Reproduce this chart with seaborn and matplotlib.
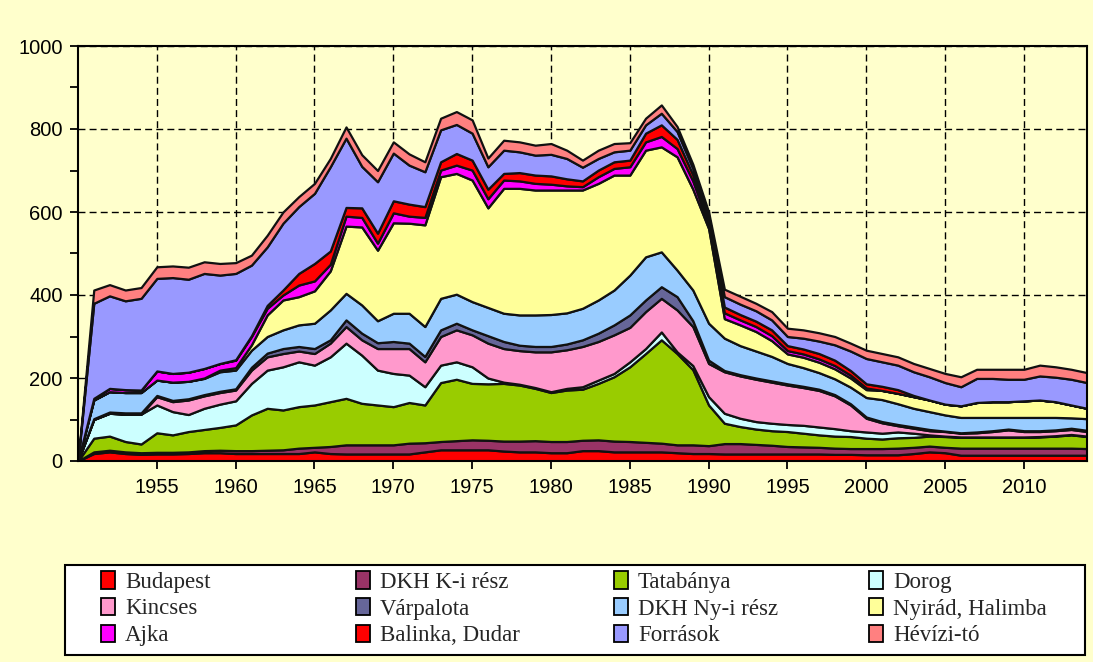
import matplotlib
matplotlib.use("Agg")
import matplotlib.pyplot as plt
from matplotlib.patches import Patch, Rectangle
import pandas as pd
import seaborn as sns

years = list(range(1950, 2015))

# values per source, 1950..2014
budapest = [0, 18, 22, 18, 16, 17, 17, 18, 20, 20,
            18, 18, 18, 18, 18, 22, 18, 17, 17, 17,
            17, 17, 22, 27, 27, 27, 27, 24, 22, 22,
            20, 20, 25, 25, 22, 22, 22, 22, 20, 18,
            18, 17, 17, 17, 17, 17, 17, 17, 16, 16,
            15, 15, 15, 18, 22, 20, 14, 14, 14, 14,
            14, 14, 14, 14, 14]
dkh_k = [0, 4, 4, 4, 4, 4, 4, 4, 5, 6,
         7, 7, 8, 9, 13, 11, 17, 22, 22, 22,
         22, 26, 22, 20, 22, 24, 23, 24, 26, 27,
         27, 27, 25, 26, 26, 25, 23, 21, 19, 21,
         19, 25, 25, 23, 21, 18, 17, 16, 15, 14,
         15, 15, 16, 15, 14, 13, 17, 17, 17, 17,
         17, 17, 17, 17, 16]
tatabanya = [0, 33, 34, 25, 21, 47, 42, 49, 51, 55,
             62, 86, 101, 96, 100, 102, 108, 112, 100, 96,
             92, 98, 91, 142, 148, 136, 136, 139, 135, 126,
             118, 124, 123, 136, 155, 180, 214, 249, 220, 181,
             98, 49, 41, 37, 35, 36, 33, 30, 29, 29,
             25, 23, 25, 24, 24, 26, 26, 26, 26, 26,
             26, 27, 29, 32, 29]
dorog = [0, 45, 55, 66, 72, 67, 56, 41, 51, 56,
         58, 76, 92, 104, 108, 96, 108, 133, 116, 84,
         80, 66, 44, 42, 42, 40, 14, 3, 2, 2,
         2, 4, 6, 8, 8, 12, 12, 19, 4, 10,
         20, 24, 20, 18, 18, 17, 19, 19, 18, 14,
         15, 14, 14, 10, 3, 1, 1, 1, 1, 1,
         1, 1, 1, 1, 1]
kincses = [0, 0, 0, 0, 0, 20, 24, 35, 30, 28,
           26, 32, 32, 32, 26, 28, 33, 40, 37, 52,
           60, 64, 60, 69, 77, 77, 84, 81, 81, 86,
           96, 93, 97, 93, 93, 83, 89, 81, 101, 94,
           80, 100, 102, 102, 99, 95, 91, 88, 79, 62,
           33, 25, 15, 12, 10, 11, 9, 10, 13, 17,
           13, 12, 12, 12, 11]
varpalota = [0, 2, 3, 3, 3, 3, 3, 3, 3, 3,
             3, 7, 9, 12, 11, 12, 8, 16, 16, 14,
             17, 13, 13, 16, 16, 12, 18, 17, 13, 13,
             13, 14, 16, 20, 24, 30, 28, 28, 32, 14,
             8, 3, 3, 3, 3, 3, 3, 3, 3, 3,
             3, 3, 3, 3, 3, 1, 1, 2, 2, 2,
             2, 2, 2, 3, 3]
dkh_ny = [0, 45, 49, 49, 49, 37, 44, 42, 39, 47,
          45, 41, 40, 45, 52, 61, 72, 64, 68, 53,
          68, 72, 72, 76, 70, 68, 68, 68, 73, 76,
          77, 75, 76, 80, 84, 96, 104, 84, 64, 74,
          89, 78, 70, 65, 59, 49, 45, 40, 38, 40,
          47, 53, 50, 45, 43, 39, 37, 35, 32, 28,
          32, 32, 30, 25, 28]
nyirad = [0, 0, 0, 0, 0, 0, 0, 0, 1, 4,
          6, 13, 52, 72, 68, 78, 94, 162, 188, 170,
          218, 217, 245, 293, 291, 293, 240, 301, 305, 301,
          300, 296, 285, 281, 277, 241, 257, 253, 273, 243,
          228, 47, 50, 47, 38, 23, 25, 25, 24, 22,
          19, 22, 25, 28, 28, 26, 28, 36, 38, 38,
          40, 42, 38, 31, 25]
ajka = [0, 4, 8, 7, 6, 22, 21, 22, 23, 16,
        18, 20, 16, 12, 28, 24, 16, 24, 23, 17,
        24, 17, 18, 16, 20, 24, 22, 20, 18, 16,
        14, 10, 8, 16, 16, 20, 20, 25, 20, 20,
        10, 14, 12, 12, 12, 8, 8, 8, 8, 7,
        4, 0, 0, 0, 0, 0, 0, 0, 0, 0,
        0, 0, 0, 0, 0]
balinka = [0, 0, 0, 0, 0, 0, 0, 0, 0, 0,
           1, 2, 7, 12, 28, 42, 32, 21, 23, 24,
           29, 29, 26, 20, 28, 24, 23, 16, 20, 20,
           20, 17, 14, 16, 16, 16, 21, 28, 22, 15,
           10, 14, 13, 13, 14, 12, 12, 13, 13, 11,
           10, 10, 9, 3, 0, 0, 0, 0, 0, 0,
           0, 0, 0, 0, 0]
forrasok = [0, 229, 223, 214, 221, 223, 231, 224, 229, 213,
            208, 170, 141, 161, 161, 169, 203, 167, 100, 124,
            115, 94, 84, 77, 70, 65, 54, 56, 50, 48,
            52, 49, 33, 28, 24, 24, 20, 28, 19, 15,
            10, 25, 25, 25, 24, 22, 26, 30, 37, 47,
            61, 59, 59, 57, 56, 52, 46, 58, 56, 54,
            52, 58, 59, 62, 62]
hevizi = [0, 32, 27, 26, 26, 28, 28, 29, 28, 28,
          26, 24, 28, 27, 24, 24, 20, 27, 28, 27,
          27, 27, 24, 28, 31, 32, 21, 24, 24, 24,
          26, 20, 17, 20, 20, 18, 16, 20, 12, 10,
          10, 18, 19, 18, 20, 20, 20, 20, 20, 19,
          20, 20, 20, 20, 20, 22, 24, 22, 22, 24,
          24, 26, 25, 24, 24]

names = ["Budapest", "DKH K-i rész", "Tatabánya", "Dorog",
         "Kincses", "Várpalota", "DKH Ny-i rész", "Nyirád, Halimba",
         "Ajka", "Balinka, Dudar", "Források", "Hévízi-tó"]
colors = ["#FF0000", "#993366", "#99CC00", "#CCFFFF",
          "#FF99CC", "#666699", "#99CCFF", "#FFFF99",
          "#FF00FF", "#FF0000", "#9999FF", "#FF8080"]

df = pd.DataFrame(dict(zip(names, [budapest, dkh_k, tatabanya, dorog, kincses, varpalota,
                                   dkh_ny, nyirad, ajka, balinka, forrasok, hevizi])),
                  index=years)

bg = "#FFFFCC"
sns.set_theme(style="ticks")
plt.rcParams["font.family"] = ["Liberation Sans", "DejaVu Sans"]

W, H = 1093, 662
fig = plt.figure(figsize=(W / 100, H / 100), dpi=100, facecolor=bg)
ax = fig.add_axes([78 / W, 1 - 461 / H, (1087 - 78) / W, (461 - 46) / H])
ax.set_facecolor(bg)

ax.stackplot(df.index, df.T.values, colors=colors, edgecolor="#111111", linewidth=1.6, zorder=2)

ax.set_xlim(1950, 2014)
ax.set_ylim(0, 1000)
ax.set_xticks(range(1955, 2011, 5))
ax.set_yticks(range(0, 1001, 200))
ax.set_yticks(range(100, 1000, 200), minor=True)
ax.tick_params(axis="both", which="both", direction="out", length=6, width=1.3,
               color="black", labelsize=14.5, labelcolor="black")
ax.tick_params(axis="x", pad=6)
ax.tick_params(axis="y", pad=5)
ax.grid(True, which="major", color="black", linestyle=(0, (5, 3)), linewidth=1.0, zorder=0)
ax.set_axisbelow(True)
for s in ax.spines.values():
    s.set_color("black")
    s.set_linewidth(1.5)

# legend box
fig.add_artist(Rectangle((65 / W, 1 - 655 / H), 1020 / W, 90 / H, transform=fig.transFigure,
                         facecolor="white", edgecolor="black", linewidth=1.5, zorder=1))
col_x = [101, 356, 614, 869]
for j in range(4):
    idx = [j, j + 4, j + 8]
    handles = [Patch(facecolor=colors[i], edgecolor="black", linewidth=1.3) for i in idx]
    fig.legend(handles, [names[i] for i in idx], loc="upper left",
               bbox_to_anchor=(col_x[j] / W, 1 - 571 / H), frameon=False,
               borderpad=0, borderaxespad=0, handlelength=0.6, handleheight=0.8,
               handletextpad=0.45, labelspacing=0.22,
               prop={"family": ["Liberation Serif", "DejaVu Serif"], "size": 16.5})

fig.savefig("out.png", dpi=100, facecolor=bg)
